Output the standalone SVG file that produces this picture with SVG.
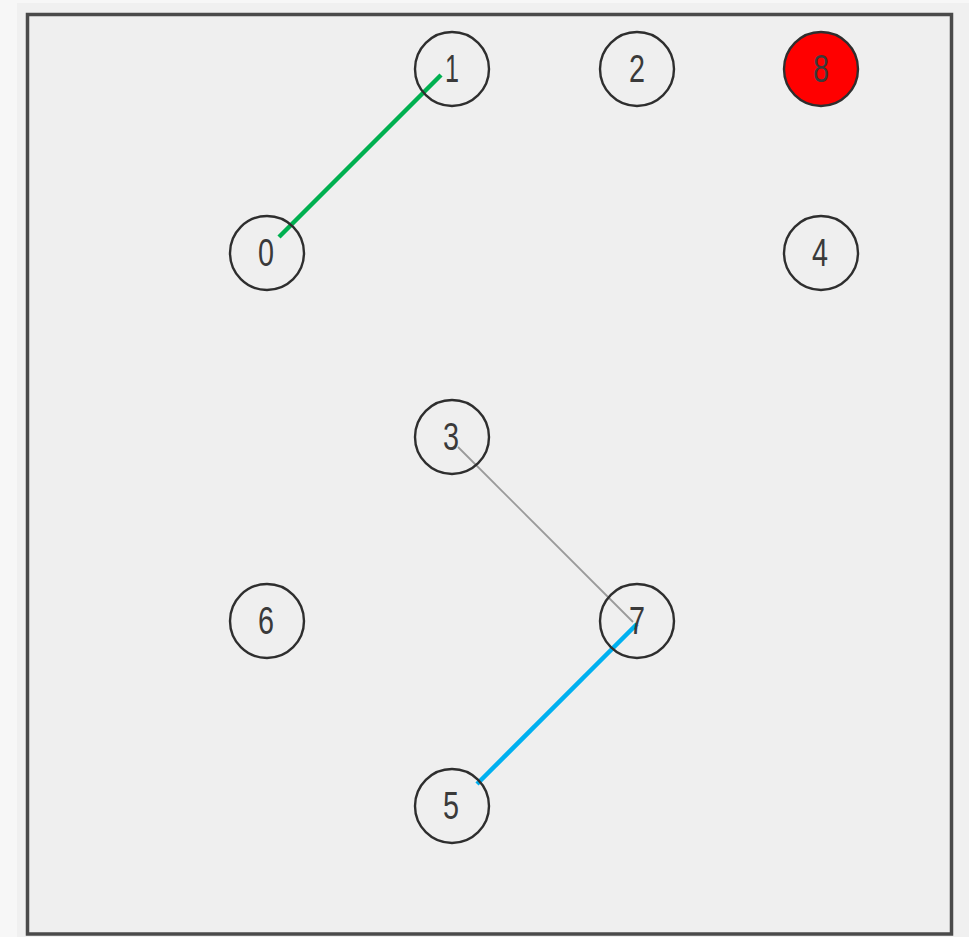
<svg xmlns="http://www.w3.org/2000/svg" width="969" height="937" viewBox="0 0 969 937">
  <style>
    .node circle { fill: none; stroke: #2e2e2e; stroke-width: 2.4; }
    .node.hot circle { fill: #ff0000; }
    .node text { font-family: "Liberation Sans", "DejaVu Sans", sans-serif; font-size: 38px; fill: #3a3a3a; text-anchor: middle; }
    .edge { stroke-linecap: butt; }
  </style>
  <!-- page and panel -->
  <rect x="0" y="0" width="969" height="937" fill="#f7f7f7"/>
  <rect x="17" y="3" width="952" height="934" fill="#f0f0f0"/>
  <rect x="27.5" y="14.5" width="924" height="919.5" fill="#efefef" stroke="#4a4a4a" stroke-width="3.5"/>

  <g id="edges">
    <line class="edge" x1="441" y1="75" x2="279" y2="237" stroke="#00b050" stroke-width="4.5"/>
    <line class="edge" x1="458" y1="447" x2="633" y2="622" stroke="#9a9a9a" stroke-width="1.8"/>
    <line class="edge" x1="637" y1="624" x2="477" y2="784" stroke="#00b0f0" stroke-width="4.5"/>
  </g>

  <!-- labels are condensed to the narrow face of the original widget font -->
  <g id="n1" class="node"><circle cx="452" cy="69" r="37"/><text x="452" y="82" textLength="14" lengthAdjust="spacingAndGlyphs">1</text></g>
  <g id="n2" class="node"><circle cx="637" cy="69" r="37"/><text x="637" y="82" textLength="16" lengthAdjust="spacingAndGlyphs">2</text></g>
  <g id="n8" class="node hot"><circle cx="821" cy="69" r="37"/><text x="821" y="82" textLength="16" lengthAdjust="spacingAndGlyphs">8</text></g>
  <g id="n0" class="node"><circle cx="267" cy="253" r="37"/><text x="266" y="266" textLength="16" lengthAdjust="spacingAndGlyphs">0</text></g>
  <g id="n4" class="node"><circle cx="821" cy="253" r="37"/><text x="820" y="266" textLength="16" lengthAdjust="spacingAndGlyphs">4</text></g>
  <g id="n3" class="node"><circle cx="452" cy="437" r="37"/><text x="451" y="450" textLength="16" lengthAdjust="spacingAndGlyphs">3</text></g>
  <g id="n6" class="node"><circle cx="267" cy="621" r="37"/><text x="266" y="634" textLength="16" lengthAdjust="spacingAndGlyphs">6</text></g>
  <g id="n7" class="node"><circle cx="637" cy="621" r="37"/><text x="637" y="634" textLength="16" lengthAdjust="spacingAndGlyphs">7</text></g>
  <g id="n5" class="node"><circle cx="452" cy="806" r="37"/><text x="451" y="819" textLength="16" lengthAdjust="spacingAndGlyphs">5</text></g>
</svg>
